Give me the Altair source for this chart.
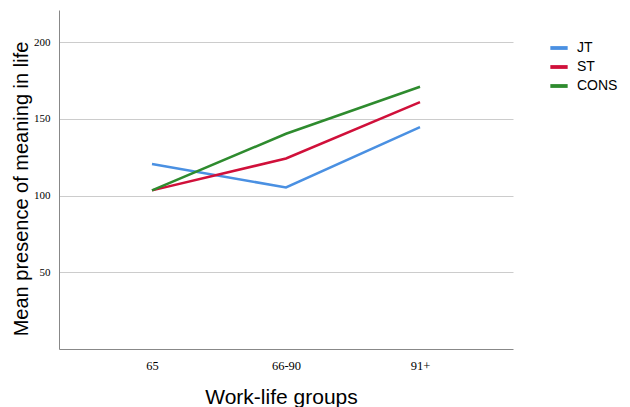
import altair as alt
import pandas as pd

groups = ["65", "66-90", "91+"]
series = ["JT", "ST", "CONS"]
jt = [120.6, 105.3, 144.6]
st = [103.4, 124.2, 161.0]
cons = [103.4, 140.3, 171.0]
colors = ["#4A90E2", "#D0103A", "#2E8B2E"]

rows = []
for name, vals in zip(series, [jt, st, cons]):
    for g, v in zip(groups, vals):
        rows.append({"group": g, "series": name, "value": v})
df = pd.DataFrame(rows)

chart = alt.Chart(df).mark_line(strokeWidth=2.5).encode(
    x=alt.X("group:N", sort=groups, title="Work-life groups",
            scale=alt.Scale(type="point", padding=0.694),
            axis=alt.Axis(labelAngle=0, ticks=False, grid=False, domainColor="#888888",
                          labelFont="Liberation Serif", labelFontSize=12.5, labelColor="#000000",
                          labelPadding=10, titleFont="Liberation Sans", titleFontSize=21,
                          titleFontWeight="normal", titleColor="#000000",
                          titleX=222, titleY=54, titleBaseline="alphabetic")),
    y=alt.Y("value:Q", title="Mean presence of meaning in life",
            scale=alt.Scale(domain=[0, 221], nice=False),
            axis=alt.Axis(values=[50, 100, 150, 200], ticks=False, grid=True,
                          gridColor="#CCCCCC", domainColor="#888888",
                          labelFont="Liberation Serif", labelFontSize=11, labelColor="#000000",
                          labelPadding=9, titleFont="Liberation Sans", titleFontSize=20,
                          titleFontWeight="normal", titleColor="#000000", titlePadding=2,
                          titleY=178.5)),
    color=alt.Color("series:N", sort=series, title=None,
                    scale=alt.Scale(domain=series, range=colors),
                    legend=alt.Legend(orient="none", legendX=489, legendY=27,
                                      symbolType="stroke", symbolStrokeWidth=3.8,
                                      symbolSize=300, labelFont="Liberation Sans",
                                      labelFontSize=14, labelColor="#000000",
                                      rowPadding=-2, labelOffset=7)),
).properties(
    width=454, height=339,
    autosize=alt.AutoSizeParams(type="none"),
    padding={"left": 51, "top": 2, "right": 107, "bottom": 58},
).configure_view(stroke=None)

chart.save("out.html", embed_options={"renderer": "svg", "actions": False})
